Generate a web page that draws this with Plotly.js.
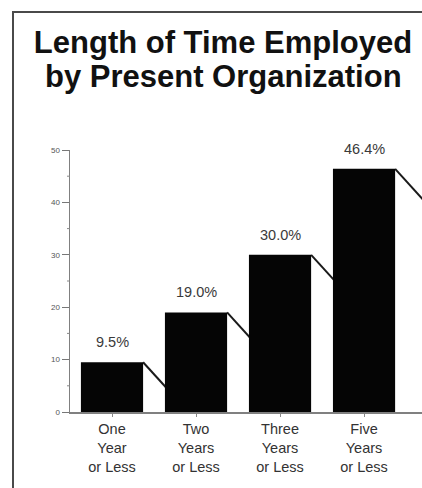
<!DOCTYPE html>
<html>
<head>
<meta charset="utf-8">
<script src="https://cdn.plot.ly/plotly-3.0.1.min.js"></script>
<style>
  html, body { margin: 0; padding: 0; background: #ffffff; overflow: hidden; }
  #chart { width: 422px; height: 488px; }
</style>
</head>
<body>
<div id="chart"></div>
<script>
// Tenure with the present organization (cumulative share of respondents)
const categories = [
  "One<br>Year<br>or Less",
  "Two<br>Years<br>or Less",
  "Three<br>Years<br>or Less",
  "Five<br>Years<br>or Less"
];
const percentValues = [9.5, 19.0, 30.0, 46.4];
const yTickValues = [0, 10, 20, 30, 40, 50];
const yMinorTickValues = [5, 15, 25, 35, 45];
const titleLines = ["Length of Time Employed", "by Present Organization"];

const FONT = '"Liberation Sans", Arial, Helvetica, sans-serif';
const BAR_WIDTH = 0.74;
const TITLE_SIZE = 31;

// plot box in pixels
const W = 422, H = 488;
const M = { l: 70, r: 0, t: 150, b: 76 };
const plotW = W - M.l - M.r;
const plotH = H - M.t - M.b;
const xRange = [-0.5, 3.69];
const yRange = [0, 50];
const pxPerX = plotW / (xRange[1] - xRange[0]);
const pxPerY = plotH / (yRange[1] - yRange[0]);

// convert page pixels to paper coordinates
const px2paperX = px => (px - M.l) / plotW;
const px2paperY = py => (H - M.b - py) / plotH;

// slanted connector leaving each bar's top-right corner (drawn beneath the bars)
const connDxUnits = 0.42;
const connSlope = 1.1; // vertical px per horizontal px
const connDyUnits = connDxUnits * pxPerX * connSlope / pxPerY;

const shapes = percentValues.map((v, i) => ({
  type: 'line', layer: 'below', xref: 'x', yref: 'y',
  x0: i + BAR_WIDTH / 2, y0: v,
  x1: i + BAR_WIDTH / 2 + connDxUnits, y1: v - connDyUnits,
  line: { color: '#1a1a1a', width: 2 }
}));

// short minor ticks between the labelled y ticks
yMinorTickValues.forEach(v => shapes.push({
  type: 'line', xref: 'paper', yref: 'y',
  x0: px2paperX(M.l - 3), x1: 0, y0: v, y1: v,
  line: { color: '#888888', width: 1 }
}));

// frame around the figure (left and top edges)
shapes.push({
  type: 'line', xref: 'paper', yref: 'paper', layer: 'above',
  x0: px2paperX(13), y0: px2paperY(12), x1: px2paperX(13), y1: px2paperY(H),
  line: { color: '#4a4a4a', width: 2 }
});
shapes.push({
  type: 'line', xref: 'paper', yref: 'paper', layer: 'above',
  x0: px2paperX(12), y0: px2paperY(12), x1: px2paperX(W), y1: px2paperY(12),
  line: { color: '#4a4a4a', width: 2 }
});

const annotations = percentValues.map((v, i) => ({
  x: i, y: v, xref: 'x', yref: 'y',
  text: v.toFixed(1) + '%',
  showarrow: false, yanchor: 'bottom', yshift: 10,
  font: { family: FONT, size: 14.5, color: '#3a3a3a' }
}));

annotations.push({
  x: px2paperX(223), y: px2paperY(76), xref: 'paper', yref: 'paper',
  text: '<b>' + titleLines[1] + '</b>',
  showarrow: false, xanchor: 'center', yanchor: 'middle',
  font: { family: FONT, size: TITLE_SIZE, color: '#111111' }
});

const trace = {
  type: 'bar',
  x: [0, 1, 2, 3],
  y: percentValues,
  width: BAR_WIDTH,
  marker: { color: '#050505', line: { width: 0 } },
  hoverinfo: 'skip'
};

const layout = {
  width: W, height: H,
  margin: M,
  paper_bgcolor: '#ffffff',
  plot_bgcolor: '#ffffff',
  showlegend: false,
  font: { family: FONT, color: '#333333' },
  title: {
    text: '<b>' + titleLines[0] + '</b>',
    font: { family: FONT, size: TITLE_SIZE, color: '#111111' },
    xref: 'paper', x: px2paperX(223), xanchor: 'center',
    yref: 'container', y: 1 - 42 / H, yanchor: 'middle',
    pad: { t: 0, b: 0, l: 0, r: 0 }
  },
  xaxis: {
    range: xRange,
    tickmode: 'array',
    tickvals: [0, 1, 2, 3],
    ticktext: categories,
    tickson: 'boundaries',
    ticks: 'outside', ticklen: 3, tickwidth: 1, tickcolor: '#888888',
    showline: true, linecolor: '#808080', linewidth: 1.5,
    showgrid: false, zeroline: false,
    tickfont: { family: FONT, size: 14.5, color: '#333333' }
  },
  yaxis: {
    range: yRange,
    tickmode: 'array',
    tickvals: yTickValues,
    ticks: 'outside', ticklen: 7, tickwidth: 1, tickcolor: '#777777',
    showline: true, linecolor: '#808080', linewidth: 1.5,
    showgrid: false, zeroline: false,
    tickfont: { family: FONT, size: 8, color: '#555555' }
  },
  shapes: shapes,
  annotations: annotations
};

Plotly.newPlot('chart', [trace], layout, { staticPlot: true, displayModeBar: false });
</script>
</body>
</html>
